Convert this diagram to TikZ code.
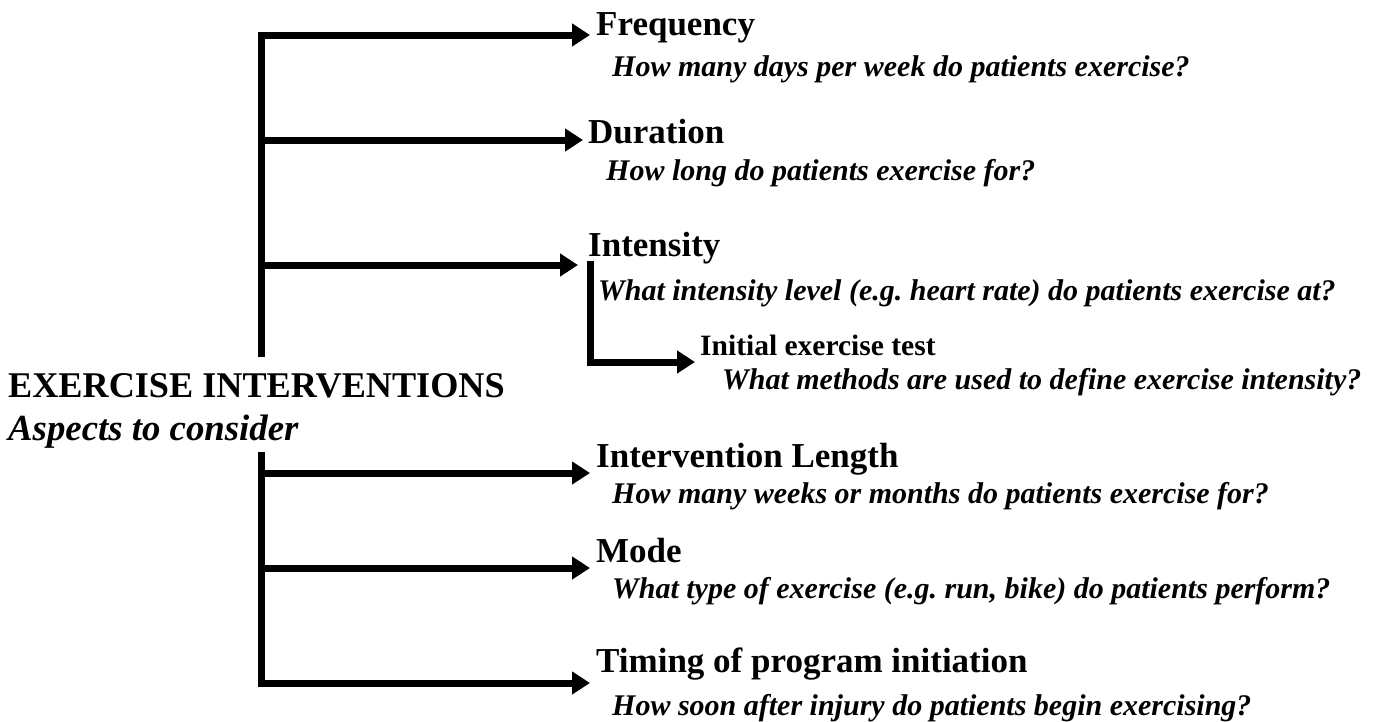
\documentclass[tikz,border=0pt]{standalone}
\usepackage{fontspec}
\setmainfont{Liberation Serif}
\usetikzlibrary{arrows.meta}

\begin{document}
\begin{tikzpicture}[x=1pt,y=-1pt,
  >={Triangle[length=18pt,width=22pt]},
  link/.style={line width=7pt},
  head/.style={anchor=base west,inner sep=0pt,font=\fontsize{35}{40}\selectfont\bfseries},
  sub/.style={anchor=base west,inner sep=0pt,font=\fontsize{29.5}{34}\selectfont\bfseries},
  ask/.style={anchor=base west,inner sep=0pt,font=\fontsize{30}{36}\selectfont\bfseries\itshape}]
\useasboundingbox (0,0) rectangle (1373,721);

% topic on the left
\node[head,font=\fontsize{36.2}{40}\selectfont\bfseries] (topic) at (8,397) {EXERCISE INTERVENTIONS};
\node[ask,font=\fontsize{36.8}{40}\selectfont\bfseries\itshape] (aspects) at (8,440) {Aspects to consider};

% aspects and their questions
\node[head] (freq) at (596,35) {Frequency};
\node[ask] (freqq) at (612,76) {How many days per week do patients exercise?};
\node[head] (dur) at (588,143) {Duration};
\node[ask] (durq) at (606,180) {How long do patients exercise for?};
\node[head] (inten) at (588,256) {Intensity};
\node[ask] (intenq) at (598,300) {What intensity level (e.g.\ heart rate) do patients exercise at?};
\node[sub] (test) at (700,355) {Initial exercise test};
\node[ask] (testq) at (722,389) {What methods are used to define exercise intensity?};
\node[head] (length) at (596,467) {Intervention Length};
\node[ask] (lengthq) at (612,503) {How many weeks or months do patients exercise for?};
\node[head] (mode) at (596,562) {Mode};
\node[ask] (modeq) at (612,598) {What type of exercise (e.g.\ run, bike) do patients perform?};
\node[head] (timing) at (596,672) {Timing of program initiation};
\node[ask] (timingq) at (612,715) {How soon after injury do patients begin exercising?};

% trunk ends and arrow tips
\coordinate (upper) at (261,357);
\coordinate (lower) at (261,452);
\coordinate (freqtip) at (590,35);
\coordinate (durtip) at (583,140);
\coordinate (intentip) at (578,265);
\coordinate (lengthtip) at (590,473);
\coordinate (modetip) at (590,568);
\coordinate (timingtip) at (590,683);
\coordinate (fork) at (590,261);
\coordinate (testtip) at (695,362);

\draw[link,->] (upper) |- (freqtip);
\draw[link,->] (upper |- durtip) -- (durtip);
\draw[link,->] (upper |- intentip) -- (intentip);
\draw[link,->] (lower) |- (timingtip);
\draw[link,->] (lower |- lengthtip) -- (lengthtip);
\draw[link,->] (lower |- modetip) -- (modetip);
\draw[link,->] (fork) |- (testtip);
\end{tikzpicture}
\end{document}
